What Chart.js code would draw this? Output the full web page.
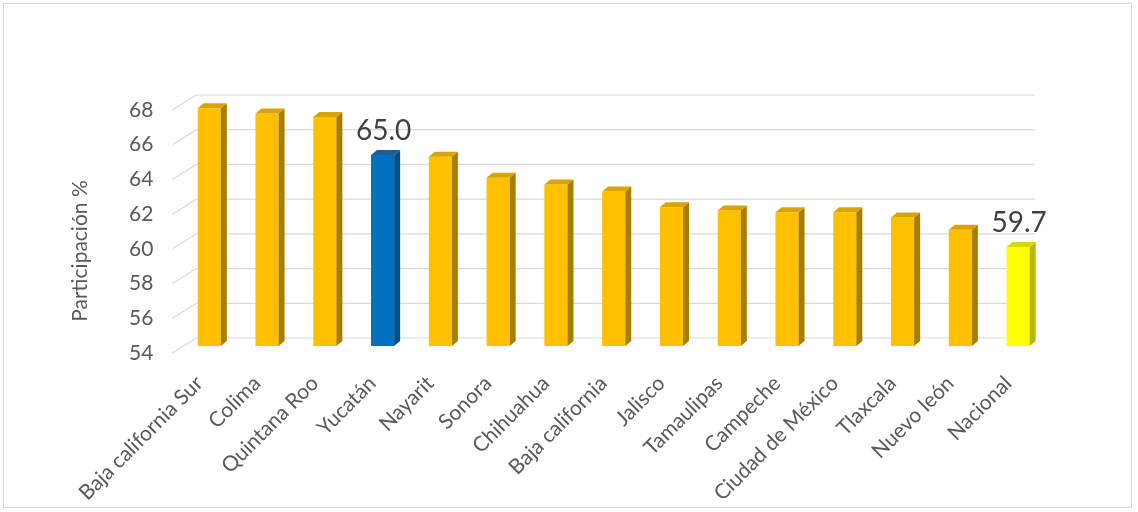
<!DOCTYPE html>
<html>
<head>
<meta charset="utf-8">
<script src="https://cdn.jsdelivr.net/npm/chart.js@4.4.1/dist/chart.umd.min.js"></script>
<style>
  html, body { margin: 0; padding: 0; background: #fff; }
  #frame {
    position: absolute; left: 3px; top: 3px; width: 1129px; height: 505px;
    border: 1px solid #d9d9d9; box-sizing: border-box;
  }
  #wrap { position: absolute; left: 0; top: 0; width: 1138px; height: 512px; }
</style>
</head>
<body>
<div id="frame"></div>
<div id="wrap"><canvas id="chart"></canvas></div>
<script>
// Participación % por entidad
const categories = [
  'Baja california Sur', 'Colima', 'Quintana Roo', 'Yucatán', 'Nayarit', 'Sonora',
  'Chihuahua', 'Baja california', 'Jalisco', 'Tamaulipas', 'Campeche',
  'Ciudad de México', 'Tlaxcala', 'Nuevo león', 'Nacional'
];
const values = [67.7, 67.4, 67.2, 65.0, 64.9, 63.7, 63.3, 62.9, 62.0, 61.8, 61.7, 61.7, 61.4, 60.7, 59.7];
const labelled = ['Yucatán', 'Nacional'];
const yTicks = [54, 56, 58, 60, 62, 64, 66, 68];
const yTitle = 'Participación %';

const FONT = "'Lato', 'Open Sans', sans-serif";

function faceColors(name) {
  if (name === 'Yucatán') return { front: '#0070C0', side: '#004f88', top: '#1a5f95' };
  if (name === 'Nacional') return { front: '#FFFF00', side: '#b8b800', top: '#d9d900' };
  return { front: '#FFC000', side: '#a87e00', top: '#d9a300' };
}

// back-wall gridlines with slanted floor ticks, plus the axis title
const depthGrid = {
  id: 'depthGrid',
  beforeDatasetsDraw(chart) {
    const { ctx, chartArea, scales } = chart;
    ctx.save();
    ctx.strokeStyle = '#d9d9d9';
    ctx.lineWidth = 1.2;
    yTicks.forEach(v => {
      const y = scales.y.getPixelForValue(v);
      ctx.beginPath();
      ctx.moveTo(chartArea.left - 8, y + 7);
      ctx.lineTo(chartArea.left + 16, y - 8);
      ctx.lineTo(1035, y - 8);
      ctx.stroke();
    });
    // axis title sits a little below the middle of the axis
    ctx.translate(80, 251);
    ctx.rotate(-Math.PI / 2);
    ctx.fillStyle = '#595959';
    ctx.font = '21px ' + FONT;
    ctx.textAlign = 'center';
    ctx.textBaseline = 'middle';
    ctx.fillText(yTitle, 0, 0);
    ctx.restore();
  }
};

// side and top faces of the bars
const barDepth = {
  id: 'barDepth',
  afterDatasetsDraw(chart) {
    const { ctx, scales } = chart;
    const meta = chart.getDatasetMeta(0);
    const base = scales.y.getPixelForValue(scales.y.min);
    const dx = 6, dy = 5;
    ctx.save();
    meta.data.forEach((bar, i) => {
      const c = faceColors(categories[i]);
      const xl = bar.x - bar.width / 2, xr = bar.x + bar.width / 2;
      const top = bar.y;
      ctx.fillStyle = c.side;
      ctx.beginPath();
      ctx.moveTo(xr, top);
      ctx.lineTo(xr + dx, top - dy);
      ctx.lineTo(xr + dx, base - dy);
      ctx.lineTo(xr, base);
      ctx.closePath();
      ctx.fill();
      ctx.fillStyle = c.top;
      ctx.beginPath();
      ctx.moveTo(xl, top);
      ctx.lineTo(xl + dx, top - dy);
      ctx.lineTo(xr + dx, top - dy);
      ctx.lineTo(xr, top);
      ctx.closePath();
      ctx.fill();
    });
    // value labels
    ctx.fillStyle = '#404040';
    ctx.font = '28px ' + FONT;
    ctx.textAlign = 'center';
    ctx.textBaseline = 'middle';
    meta.data.forEach((bar, i) => {
      if (!labelled.includes(categories[i])) return;
      ctx.fillText(values[i].toFixed(1), bar.x + 1, bar.y - 24);
    });
    ctx.restore();
  }
};

new Chart(document.getElementById('chart'), {
  type: 'bar',
  data: {
    labels: categories,
    datasets: [{
      data: values,
      backgroundColor: categories.map(n => faceColors(n).front),
      borderWidth: 0,
      barPercentage: 0.8,
      categoryPercentage: 0.5
    }]
  },
  options: {
    responsive: true,
    maintainAspectRatio: false,
    animation: false,
    layout: { padding: { left: 110, right: 91, top: 103, bottom: 4 } },
    plugins: { legend: { display: false }, tooltip: { enabled: false } },
    scales: {
      x: {
        grid: { display: false },
        border: { display: false },
        afterFit(scale) {
          // keep the plot box where the reference has it
          scale.paddingLeft = 0;
          scale.paddingRight = 0;
          scale.height = 162;
        },
        ticks: {
          color: '#595959',
          font: { family: FONT, size: 21 },
          minRotation: 45,
          maxRotation: 45,
          padding: 17,
          labelOffset: -10
        }
      },
      y: {
        min: 54,
        max: 68,
        grid: { display: false },
        border: { display: false },
        ticks: {
          stepSize: 2,
          color: '#595959',
          font: { family: FONT, size: 21 },
          padding: 19,
          labelOffset: 7
        }
      }
    }
  },
  plugins: [depthGrid, barDepth]
});
</script>
</body>
</html>
